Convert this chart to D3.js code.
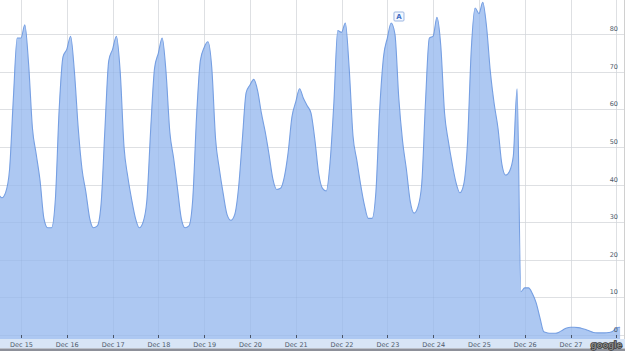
<!DOCTYPE html>
<html>
<head>
<meta charset="utf-8">
<script src="https://cdn.jsdelivr.net/npm/d3@7"></script>
<style>
  html, body { margin: 0; padding: 0; background: #fff; }
  svg { display: block; }
</style>
</head>
<body>
<svg id="chart" width="625" height="351"></svg>
<script>
// ---- data ----
const seriesStart = [2011, 11, 14, 12]; // Dec 14, 12:00
const stepHours = 2;
const traffic = [
  // Dec 14 (12:00 .. 22:00)
  37.5, 36.5, 38, 44, 63, 79,
  // Dec 15
  79, 82.5, 72, 55, 48, 41, 31, 28.5, 28.5, 36, 60, 74,
  // Dec 16
  76, 79.5, 70, 55, 44, 38, 31, 28.5, 29, 35, 55, 73,
  // Dec 17
  76, 79.5, 70, 50, 42, 36, 31, 28.5, 30, 36, 55, 71,
  // Dec 18
  75, 79, 70, 54, 47, 39, 31, 28.5, 29, 36, 58, 73,
  // Dec 19
  76.5, 78, 71, 52, 44, 37.5, 32, 30.5, 32, 39, 52, 64.5,
  // Dec 20
  66.5, 68, 65, 59, 54, 48, 41.5, 38.7, 39, 42, 48.5, 58,
  // Dec 21
  62, 65.5, 63, 61, 59, 52, 43, 39, 38.3, 46, 62, 81,
  // Dec 22
  80.5, 83, 71, 53, 46.5, 40, 34.5, 31, 31, 38, 60, 74,
  // Dec 23
  79, 83, 80, 63, 51.5, 44, 35.5, 32.4, 34, 40, 62, 79,
  // Dec 24
  79.5, 84.5, 77, 59, 51.5, 45.5, 40.5, 37.8, 40, 51, 76, 87,
  // Dec 25
  85.5, 88.5, 82, 70, 61.5, 55, 45.5, 42.5, 43.5, 47.5, 65.5, 11.5,
  // Dec 26
  12.5, 12.5, 11, 8.5, 4.5, 0.8, 0.5, 0.4, 0.4, 0.7, 1.3, 1.8,
  // Dec 27
  2, 2, 1.9, 1.7, 1.4, 1.0, 0.6, 0.5, 0.5, 0.5, 0.6, 0.9,
  // Dec 28
  1.8, 2
];
const tickDays = [15, 16, 17, 18, 19, 20, 21, 22, 23, 24, 25, 26, 27, 28];
const tickLabels = ["Dec 15", "Dec 16", "Dec 17", "Dec 18", "Dec 19", "Dec 20", "Dec 21",
                    "Dec 22", "Dec 23", "Dec 24", "Dec 25", "Dec 26", "Dec 27", ""];
const yTicks = [0, 10, 20, 30, 40, 50, 60, 70, 80];
const flagLabel = "A";
const flagDay = [2011, 11, 23, 4];
const brand = "google";

// ---- build ----
const W = 625, H = 351;
const plotBottom = 339;
const svg = d3.select("#chart");

const startDate = new Date(...seriesStart);
const points = traffic.map((v, i) => ({
  t: d3.timeHour.offset(startDate, i * stepHours),
  v: v
}));
const tickDates = tickDays.map(d => new Date(2011, 11, d));

const x = d3.scaleTime()
  .domain([tickDates[0], tickDates[tickDates.length - 1]])
  .range([21, 616.3]);
const y = d3.scaleLinear().domain([0, 80]).range([334.8, 34.3]);

svg.append("defs").append("clipPath").attr("id", "plotclip")
  .append("rect").attr("x", 0).attr("y", 0).attr("width", 624).attr("height", plotBottom);

// gridlines (under the area)
function drawGrid(g, color) {
  g.selectAll("line.h").data(yTicks).join("line").attr("class", "h")
    .attr("x1", 0).attr("x2", 624)
    .attr("y1", d => Math.round(y(d)) + 0.5).attr("y2", d => Math.round(y(d)) + 0.5)
    .attr("stroke", color).attr("stroke-width", 1);
  g.selectAll("line.v").data(tickDates).join("line").attr("class", "v")
    .attr("x1", d => Math.round(x(d)) + 0.5).attr("x2", d => Math.round(x(d)) + 0.5)
    .attr("y1", 0).attr("y2", 335)
    .attr("stroke", color).attr("stroke-width", 1);
}
drawGrid(svg.append("g"), "#e9e9e9");

const area = d3.area()
  .x(d => x(d.t))
  .y0(plotBottom)
  .y1(d => y(d.v))
  .curve(d3.curveMonotoneX);
const line = d3.line()
  .x(d => x(d.t))
  .y(d => y(d.v))
  .curve(d3.curveMonotoneX);

const plot = svg.append("g").attr("clip-path", "url(#plotclip)");
plot.append("path").datum(points).attr("d", area).attr("fill", "#adc8f2");

// faint gridlines over the fill
drawGrid(svg.append("g"), "rgba(90,110,150,0.07)");

plot.append("path").datum(points).attr("d", line)
  .attr("fill", "none").attr("stroke", "#769fe2").attr("stroke-width", 1.1);

// bottom band
svg.append("rect").attr("x", 0).attr("y", plotBottom).attr("width", W).attr("height", 9.5)
  .attr("fill", "#d8e5f6");
svg.append("rect").attr("x", 0).attr("y", 348.5).attr("width", W).attr("height", 2.5)
  .attr("fill", "#8d9099");

// x axis
const xAxis = d3.axisBottom(x)
  .tickValues(tickDates)
  .tickFormat((d, i) => tickLabels[i])
  .tickSize(3)
  .tickPadding(4);
const gx = svg.append("g").attr("transform", "translate(0,335)").call(xAxis);
gx.select(".domain").remove();
gx.selectAll(".tick line").attr("stroke", "#4a5568").attr("shape-rendering", "crispEdges");
gx.selectAll(".tick text")
  .attr("fill", "#4e5a6b")
  .style("font-family", "'DejaVu Sans', Verdana, sans-serif")
  .style("font-size", "6.5px");

// y labels (inside, right)
svg.append("g").selectAll("text").data(yTicks).join("text")
  .attr("x", 618).attr("y", d => y(d) - 3)
  .attr("text-anchor", "end")
  .attr("fill", "#4e5a6b")
  .style("font-family", "'DejaVu Sans', Verdana, sans-serif")
  .style("font-size", "6.5px")
  .text(d => d);

// right border
svg.append("line").attr("x1", 624.5).attr("x2", 624.5).attr("y1", 0).attr("y2", plotBottom)
  .attr("stroke", "#d0d0d0");

// flag marker
const fx = x(new Date(...flagDay)) + 4;
const flag = svg.append("g").attr("transform", `translate(${fx},16.5)`);
flag.append("rect").attr("x", -5).attr("y", -4.5).attr("width", 10).attr("height", 9)
  .attr("rx", 1).attr("fill", "#f4f8ff").attr("stroke", "#9db7e2").attr("stroke-width", 1);
flag.append("text").attr("x", 0).attr("y", 2.6).attr("text-anchor", "middle")
  .attr("fill", "#3f6fc4")
  .style("font-family", "'DejaVu Sans', sans-serif").style("font-size", "7px").style("font-weight", "bold")
  .text(flagLabel);

// brand watermark
svg.append("text").attr("x", 622).attr("y", 347.5).attr("text-anchor", "end")
  .attr("fill", "#8a8a8a").attr("stroke", "#3a3a3a").attr("stroke-width", 1.6)
  .attr("paint-order", "stroke")
  .style("font-family", "'Liberation Sans', Arial, sans-serif")
  .style("font-size", "9.5px").style("font-weight", "bold")
  .text(brand);
</script>
</body>
</html>
